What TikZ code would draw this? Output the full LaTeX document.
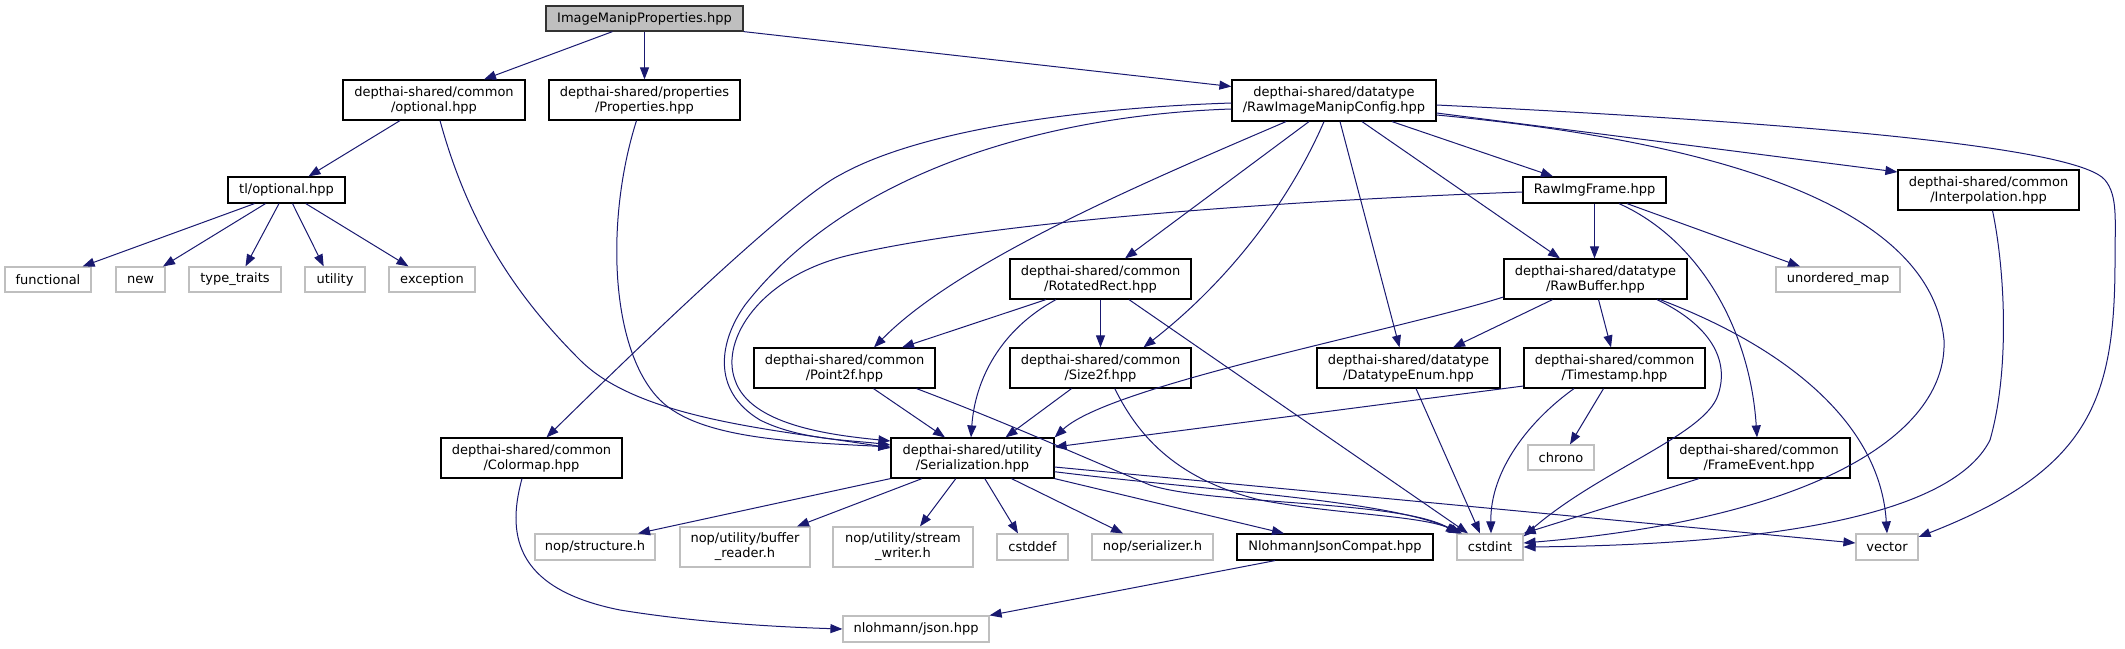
\documentclass[tikz,border=0pt]{standalone}
\usepackage{fontspec}
\setmainfont{DejaVu Sans}
\usetikzlibrary{arrows.meta}
\definecolor{edgec}{HTML}{191970}
\definecolor{greyS}{HTML}{BFBFBF}
\newcommand\fsz{\fontsize{13}{15}\selectfont}
\tikzset{
  nd/.style={draw=black, line width=1.2pt, fill=white, inner sep=0pt, align=center, font=\fsz},
  ext/.style={nd, draw=greyS},
  rootn/.style={nd, fill=greyS, draw=black!80},
  e/.style={draw=edgec, line width=1pt, -{Triangle[length=12pt,width=9pt]}},
}
\begin{document}
\begin{tikzpicture}[x=1pt,y=-1pt]
\useasboundingbox (0,0) rectangle (2125,648);
% nodes
\node[rootn, minimum width=197pt, minimum height=25pt] (root) at (644.5,18.5) {ImageManipProperties.hpp};
\node[nd, minimum width=182pt, minimum height=40pt] (opt) at (434,100) {depthai-shared/common\\/optional.hpp};
\node[nd, minimum width=191pt, minimum height=40pt] (props) at (644.5,100) {depthai-shared/properties\\/Properties.hpp};
\node[nd, minimum width=204pt, minimum height=41pt] (rimc) at (1334,100.5) {depthai-shared/datatype\\/RawImageManipConfig.hpp};
\node[nd, minimum width=117pt, minimum height=26pt] (tlopt) at (286.5,190) {tl/optional.hpp};
\node[nd, minimum width=143pt, minimum height=26pt] (rimg) at (1594.5,190) {RawImgFrame.hpp};
\node[nd, minimum width=181pt, minimum height=40pt] (interp) at (1988.5,190) {depthai-shared/common\\/Interpolation.hpp};
\node[ext, minimum width=86pt, minimum height=25pt] (func) at (48,279.5) {functional};
\node[ext, minimum width=49pt, minimum height=25pt] (new) at (140.5,279.5) {new};
\node[ext, minimum width=92pt, minimum height=25pt] (tt) at (235,279.5) {type\_traits};
\node[ext, minimum width=60pt, minimum height=25pt] (util) at (335,279.5) {utility};
\node[ext, minimum width=86pt, minimum height=25pt] (exc) at (432,279.5) {exception};
\node[nd, minimum width=181pt, minimum height=40pt] (rotrect) at (1100.5,279) {depthai-shared/common\\/RotatedRect.hpp};
\node[nd, minimum width=183pt, minimum height=40pt] (rawbuf) at (1595.5,279) {depthai-shared/datatype\\/RawBuffer.hpp};
\node[ext, minimum width=124pt, minimum height=25pt] (umap) at (1838,279.5) {unordered\_map};
\node[nd, minimum width=181pt, minimum height=40pt] (p2f) at (844.5,368) {depthai-shared/common\\/Point2f.hpp};
\node[nd, minimum width=181pt, minimum height=40pt] (s2f) at (1100.5,368) {depthai-shared/common\\/Size2f.hpp};
\node[nd, minimum width=183pt, minimum height=40pt] (dte) at (1408.5,368) {depthai-shared/datatype\\/DatatypeEnum.hpp};
\node[nd, minimum width=181pt, minimum height=40pt] (ts) at (1614.5,368) {depthai-shared/common\\/Timestamp.hpp};
\node[nd, minimum width=181pt, minimum height=40pt] (cmap) at (531.5,458) {depthai-shared/common\\/Colormap.hpp};
\node[nd, minimum width=163pt, minimum height=40pt] (ser) at (972.5,458) {depthai-shared/utility\\/Serialization.hpp};
\node[ext, minimum width=66pt, minimum height=25pt] (chrono) at (1561,457.5) {chrono};
\node[nd, minimum width=182pt, minimum height=40pt] (fe) at (1759,458) {depthai-shared/common\\/FrameEvent.hpp};
\node[ext, minimum width=120pt, minimum height=26pt] (nops) at (595,547) {nop/structure.h};
\node[ext, minimum width=130pt, minimum height=40pt] (bufr) at (745,547) {nop/utility/buffer\\\_reader.h};
\node[ext, minimum width=140pt, minimum height=40pt] (strw) at (903,547) {nop/utility/stream\\\_writer.h};
\node[ext, minimum width=71pt, minimum height=26pt] (cstddef) at (1032.5,547) {cstddef};
\node[ext, minimum width=121pt, minimum height=26pt] (nopser) at (1152.5,547) {nop/serializer.h};
\node[nd, minimum width=196pt, minimum height=26pt] (njc) at (1335,547) {NlohmannJsonCompat.hpp};
\node[ext, minimum width=66pt, minimum height=26pt] (cstdint) at (1490,547) {cstdint};
\node[ext, minimum width=62pt, minimum height=26pt] (vector) at (1887,547) {vector};
\node[ext, minimum width=146pt, minimum height=26pt] (json) at (916,629) {nlohmann/json.hpp};
% edges
\draw[e] ([xshift=-32pt]root.south) -- ([xshift=50pt]opt.north);
\draw[e] (root.south) -- (props.north);
\draw[e] (root.south east) -- ([yshift=14pt]rimc.west);
\draw[e] ([xshift=-34pt]opt.south) -- ([xshift=22pt]tlopt.north);
\draw[e] ([xshift=6pt]opt.south) .. controls (470,230) and (520,300) .. (580,360) .. controls (640,420) and (780,430) .. ([yshift=10pt]ser.west);
\draw[e] ([xshift=-8pt]props.south) .. controls (605,220) and (610,350) .. (660,400) .. controls (700,440) and (800,442) .. ([yshift=11pt]ser.west);
\draw[e] ([yshift=-2.5pt]rimc.west) .. controls (1080,108) and (920,130) .. (840,175) .. controls (785,203) and (600,385) .. ([xshift=15pt]cmap.north);
\draw[e] ([yshift=-8.5pt]rimc.west) .. controls (1050,115) and (850,170) .. (745,305) .. controls (720,340) and (710,390) .. (760,420) .. controls (800,440) and (850,440) .. ([yshift=13pt]ser.west);
\draw[e] ([yshift=-2pt]rimg.west) .. controls (1300,200) and (1000,220) .. (850,255) .. controls (760,276) and (720,340) .. (735,380) .. controls (750,425) and (830,435) .. ([yshift=17pt]ser.west);
\draw[e] ([xshift=29pt]p2f.south) -- ([xshift=-27.5pt]ser.north);
\draw[e] ([xshift=-44.5pt]rotrect.south) .. controls (1000,330) and (975,380) .. ([xshift=-1.5pt]ser.north);
\draw[e] ([xshift=-29pt]s2f.south) -- ([xshift=33pt]ser.north);
\draw[e] ([yshift=-18pt]rawbuf.west) .. controls (1400,330) and (1110,385) .. (ser.north east);
\draw[e] ([yshift=-18pt]ts.west) -- ([yshift=11pt]ser.east);
\draw[e] (ser.south west) -- ([xshift=43pt]nops.north);
\draw[e] ([xshift=-50.5pt]ser.south) -- ([xshift=52pt]bufr.north);
\draw[e] ([xshift=-16.7pt]ser.south) -- ([xshift=17pt]strw.north);
\draw[e] ([xshift=12.3pt]ser.south) -- ([xshift=-14.5pt]cstddef.north);
\draw[e] ([xshift=39pt]ser.south) -- ([xshift=-29.5pt]nopser.north);
\draw[e] (ser.south east) -- ([xshift=-51pt]njc.north);
\draw[e] ([yshift=-13.7pt]ser.east) .. controls (1200,490) and (1390,500) .. ([xshift=-30pt]cstdint.north);
\draw[e] ([yshift=-9pt]ser.east) -- ([yshift=4pt]vector.west);
\draw[e] ([xshift=72pt]p2f.south) .. controls (1000,420) and (1090,460) .. (1150,485) .. controls (1210,505) and (1400,500) .. ([xshift=-32pt]cstdint.north);
\draw[e] ([xshift=14.3pt]s2f.south) .. controls (1140,440) and (1180,480) .. (1260,500) .. controls (1340,515) and (1420,515) .. ([xshift=-28pt]cstdint.north);
\draw[e] ([xshift=28.5pt]rotrect.south) -- ([xshift=-22pt]cstdint.north);
\draw[e] ([xshift=7.5pt]dte.south) -- ([xshift=-10pt]cstdint.north);
\draw[e] ([xshift=-40.5pt]ts.south) .. controls (1530,420) and (1490,470) .. ([xshift=1pt]cstdint.north);
\draw[e] ([xshift=-60pt]fe.south) -- (cstdint.north east);
\draw[e] ([xshift=61.5pt]rawbuf.south) .. controls (1710,325) and (1730,360) .. (1718,395) .. controls (1705,435) and (1600,470) .. ([yshift=-3pt]cstdint.north east);
\draw[e] ([yshift=-14.5pt]rimc.east) .. controls (1700,140) and (1930,200) .. (1944,340) .. controls (1948,440) and (1800,520) .. ([yshift=4pt]cstdint.east);
\draw[e] ([xshift=4pt]interp.south) .. controls (2005,270) and (2010,370) .. (1990,440) .. controls (1950,520) and (1750,545) .. (cstdint.east);
\draw[e] ([yshift=-4.5pt]rimc.east) .. controls (1850,125) and (2080,150) .. (2105,180) .. controls (2118,196) and (2115,220) .. (2115,260) .. controls (2115,400) and (2090,470) .. ([yshift=10pt]vector.east);
\draw[e] ([xshift=64.5pt]rawbuf.south) .. controls (1780,345) and (1880,420) .. (vector.north);
\draw[e] ([yshift=-12.5pt]rimc.east) -- ([yshift=18pt]interp.west);
\draw[e] ([xshift=58pt]rimc.south) -- ([xshift=-41.5pt]rimg.north);
\draw[e] ([xshift=28pt]rimc.south) -- ([xshift=-35.5pt]rawbuf.north);
\draw[e] ([xshift=6pt]rimc.south) -- ([xshift=-9pt]dte.north);
\draw[e] ([xshift=-10pt]rimc.south) .. controls (1290,200) and (1230,280) .. ([xshift=43pt]s2f.north);
\draw[e] ([xshift=-25pt]rimc.south) -- ([xshift=24.5pt]rotrect.north);
\draw[e] ([xshift=-48pt]rimc.south) .. controls (1150,180) and (960,260) .. ([xshift=29.5pt]p2f.north);
\draw[e] ([xshift=-54.5pt]rotrect.south) -- ([xshift=57.5pt]p2f.north);
\draw[e] (rotrect.south) -- (s2f.north);
\draw[e] (rimg.south) -- (rimg.south |- rawbuf.north);
\draw[e] ([xshift=32.5pt]rimg.south) -- ([xshift=-38pt]umap.north);
\draw[e] ([xshift=24.5pt]rimg.south) .. controls (1700,240) and (1750,330) .. ([xshift=-2pt]fe.north);
\draw[e] ([xshift=-43pt]rawbuf.south) -- ([xshift=44.5pt]dte.north);
\draw[e] ([xshift=3pt]rawbuf.south) -- ([xshift=-3.5pt]ts.north);
\draw[e] ([xshift=-11pt]ts.south) -- ([xshift=9pt]chrono.north);
\draw[e] ([xshift=-9.5pt]cmap.south) .. controls (505,540) and (520,590) .. (620,610) .. controls (700,623) and (780,627) .. (json.west);
\draw[e] ([xshift=-60pt]njc.south) -- (json.north east);
\draw[e] ([xshift=-32pt]tlopt.south) -- ([xshift=34.6pt]func.north);
\draw[e] ([xshift=-21pt]tlopt.south) -- ([xshift=22.5pt]new.north);
\draw[e] ([xshift=-7.5pt]tlopt.south) -- ([xshift=10.5pt]tt.north);
\draw[e] ([xshift=6pt]tlopt.south) -- ([xshift=-11.3pt]util.north);
\draw[e] ([xshift=19.3pt]tlopt.south) -- ([xshift=-23.5pt]exc.north);
\end{tikzpicture}
\end{document}
